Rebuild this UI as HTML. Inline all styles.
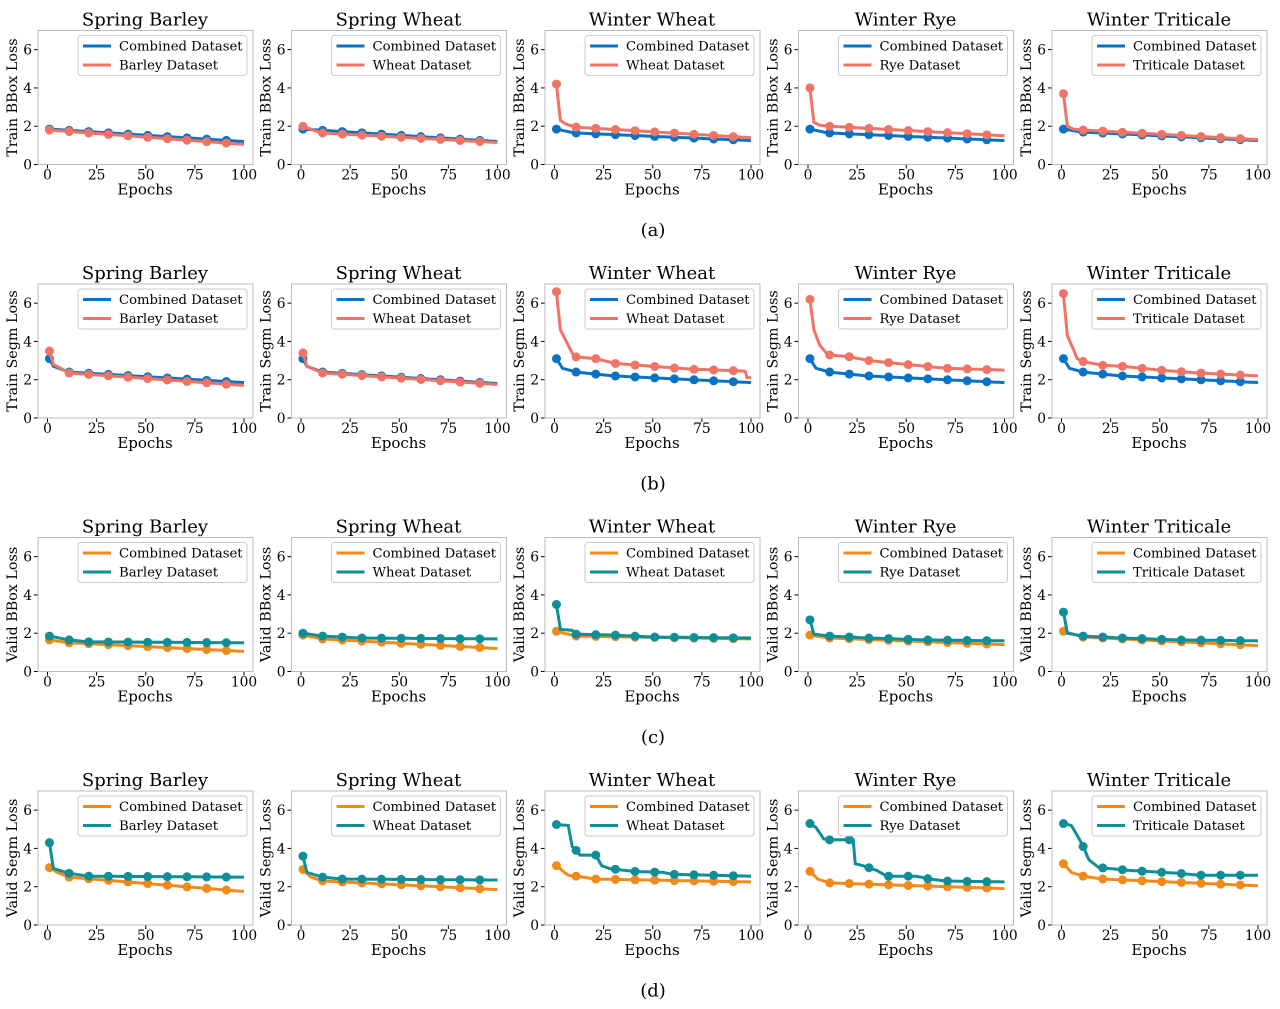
<!DOCTYPE html>
<html><head><meta charset="utf-8"><style>
body{margin:0;background:#fff}
svg{display:block;font-family:"DejaVu Serif","Liberation Serif",serif}
</style></head><body>
<svg id="s" width="1280" height="1009" viewBox="0 0 1280 1009" xmlns="http://www.w3.org/2000/svg"></svg>
<script>
(function(){
var S=document.getElementById('s'),h='';
var BLUE='#0a72c4',SAL='#f07466',OR='#f28a1a',TE='#0e8e96';
var titles=['Spring Barley','Spring Wheat','Winter Wheat','Winter Rye','Winter Triticale'];
var dsn=['Barley Dataset','Wheat Dataset','Wheat Dataset','Rye Dataset','Triticale Dataset'];
var ylab=['Train BBox Loss','Train Segm Loss','Valid BBox Loss','Valid Segm Loss'];
var letters=['(a)','(b)','(c)','(d)'];
var rowc=[[BLUE,SAL],[BLUE,SAL],[OR,TE],[OR,TE]];
var D=[
[[[[1,1.85],[100,1.2]],[[1,1.8],[100,1.05]]],
 [[[1,1.85],[100,1.2]],[[1,2.0],[10,1.65],[100,1.15]]],
 [[[1,1.85],[10,1.65],[100,1.25]],[[1,4.2],[3,2.3],[6,2.1],[11,1.95],[100,1.4]]],
 [[[1,1.85],[10,1.65],[100,1.25]],[[1,4.0],[3,2.2],[6,2.05],[11,2.0],[100,1.5]]],
 [[[1,1.85],[10,1.7],[100,1.25]],[[1,3.7],[3,2.0],[6,1.85],[11,1.8],[100,1.3]]]],
[[[[1,3.1],[3,2.7],[11,2.4],[100,1.85]],[[1,3.5],[3,2.8],[11,2.35],[100,1.7]]],
 [[[1,3.1],[3,2.7],[11,2.4],[100,1.8]],[[1,3.4],[3,2.7],[11,2.35],[100,1.75]]],
 [[[1,3.1],[4,2.6],[11,2.4],[30,2.2],[100,1.85]],[[1,6.6],[3,4.6],[6,4.0],[10,3.2],[21,3.1],[31,2.85],[50,2.7],[70,2.55],[97,2.45],[98,2.1],[100,2.1]]],
 [[[1,3.1],[4,2.6],[11,2.4],[30,2.2],[100,1.85]],[[1,6.2],[3,4.6],[6,3.8],[10,3.3],[21,3.2],[31,3.0],[50,2.8],[70,2.6],[100,2.5]]],
 [[[1,3.1],[4,2.6],[11,2.4],[30,2.2],[100,1.85]],[[1,6.5],[3,4.3],[6,3.6],[8,3.1],[11,2.95],[21,2.75],[31,2.7],[50,2.5],[70,2.35],[100,2.2]]]],
[[[[1,1.65],[11,1.5],[100,1.05]],[[1,1.85],[11,1.65],[21,1.55],[100,1.5]]],
 [[[1,1.9],[11,1.7],[100,1.2]],[[1,2.0],[11,1.85],[30,1.75],[100,1.7]]],
 [[[1,2.1],[5,2.0],[11,1.85],[100,1.7]],[[1,3.5],[3,2.2],[9,2.15],[11,1.95],[31,1.9],[50,1.8],[100,1.75]]],
 [[[1,1.9],[11,1.75],[100,1.4]],[[1,2.7],[3,1.95],[11,1.85],[31,1.75],[60,1.65],[100,1.6]]],
 [[[1,2.1],[11,1.8],[100,1.35]],[[1,3.1],[3,2.0],[11,1.85],[31,1.75],[60,1.65],[100,1.6]]]],
[[[[1,3.0],[5,2.75],[11,2.5],[100,1.75]],[[1,4.3],[3,2.95],[11,2.7],[21,2.55],[100,2.5]]],
 [[[1,2.9],[5,2.5],[11,2.3],[100,1.85]],[[1,3.6],[3,2.75],[11,2.5],[21,2.4],[100,2.35]]],
 [[[1,3.1],[5,2.75],[7,2.6],[11,2.55],[21,2.4],[100,2.25]],[[1,5.25],[7,5.2],[9,4.1],[11,3.9],[13,3.65],[21,3.65],[24,3.1],[28,2.95],[40,2.8],[55,2.75],[60,2.65],[100,2.55]]],
 [[[1,2.8],[5,2.4],[11,2.2],[100,1.9]],[[1,5.3],[4,5.1],[8,4.5],[11,4.45],[23,4.45],[24,3.2],[28,3.1],[35,2.85],[40,2.55],[55,2.55],[62,2.4],[70,2.3],[100,2.25]]],
 [[[1,3.2],[5,2.75],[11,2.55],[21,2.4],[100,2.05]],[[1,5.3],[5,5.2],[9,4.5],[11,4.1],[14,3.4],[19,3.0],[35,2.85],[60,2.7],[70,2.6],[100,2.6]]]]
];
function val(p,e){for(var i=1;i<p.length;i++){if(e<=p[i][0]){var a=p[i-1],b=p[i];return a[1]+(b[1]-a[1])*(e-a[0])/(b[0]-a[0]);}}return p[p.length-1][1];}
var T0,B0,UY,X0,UX=1.965;
function X(e){return X0+e*UX;}
function Y(v){return B0-v*UY;}
for(var r=0;r<4;r++){
 T0=30.5+r*253.5;B0=164.5+r*253.5;UY=(B0-T0)/7;
 for(var c=0;c<5;c++){
  var L=38+c*253.5;X0=L+9.5;
  h+='<text x="'+(L+107)+'" y="'+(T0-5)+'" font-size="18" text-anchor="middle">'+titles[c]+'</text>';
  h+='<text transform="translate('+(L-21)+','+((T0+B0)/2)+') rotate(-90)" font-size="14.3" text-anchor="middle">'+ylab[r]+'</text>';
  for(var t=0;t<=6;t+=2){h+='<line x1="'+(L-4)+'" x2="'+L+'" y1="'+Y(t)+'" y2="'+Y(t)+'" stroke="#000"/><text x="'+(L-6)+'" y="'+(Y(t)+5)+'" font-size="13.8" text-anchor="end">'+t+'</text>';}
  for(var t2=0;t2<=100;t2+=25){h+='<line x1="'+X(t2)+'" x2="'+X(t2)+'" y1="'+B0+'" y2="'+(B0+4)+'" stroke="#000"/><text x="'+X(t2)+'" y="'+(B0+15)+'" font-size="13.8" text-anchor="middle">'+t2+'</text>';}
  h+='<text x="'+(L+107)+'" y="'+(B0+30)+'" font-size="15" text-anchor="middle">Epochs</text>';
  for(var k=0;k<2;k++){
   var p=D[r][c][k],col=rowc[r][k],d='';
   for(var e=1;e<=100;e+=0.5){d+=(e==1?'M':'L')+X(e).toFixed(1)+','+Y(val(p,e)).toFixed(1);}
   h+='<path d="'+d+'" fill="none" stroke="'+col+'" stroke-width="3"/>';
   for(var e2=1;e2<=91;e2+=10){h+='<circle cx="'+X(e2)+'" cy="'+Y(val(p,e2))+'" r="4.5" fill="'+col+'"/>';}
  }
  h+='<rect x="'+L+'" y="'+T0+'" width="215" height="'+(B0-T0)+'" fill="none" stroke="#bbb" stroke-width="1"/>';
  h+='<rect x="'+(L+40)+'" y="'+(T0+5)+'" width="169" height="40" rx="3" fill="#fff" fill-opacity="0.85" stroke="#ccc"/>';
  h+='<line x1="'+(L+45)+'" x2="'+(L+73)+'" y1="'+(T0+15.5)+'" y2="'+(T0+15.5)+'" stroke="'+rowc[r][0]+'" stroke-width="3"/>';
  h+='<line x1="'+(L+45)+'" x2="'+(L+73)+'" y1="'+(T0+34.5)+'" y2="'+(T0+34.5)+'" stroke="'+rowc[r][1]+'" stroke-width="3"/>';
  h+='<text x="'+(L+81)+'" y="'+(T0+20)+'" font-size="13.2">Combined Dataset</text>';
  h+='<text x="'+(L+81)+'" y="'+(T0+39)+'" font-size="13.2">'+dsn[c]+'</text>';
 }
 h+='<text x="653" y="'+(236+r*253.5)+'" font-size="18" text-anchor="middle">'+letters[r]+'</text>';
}
S.innerHTML=h;
})();
</script>
</body></html>
